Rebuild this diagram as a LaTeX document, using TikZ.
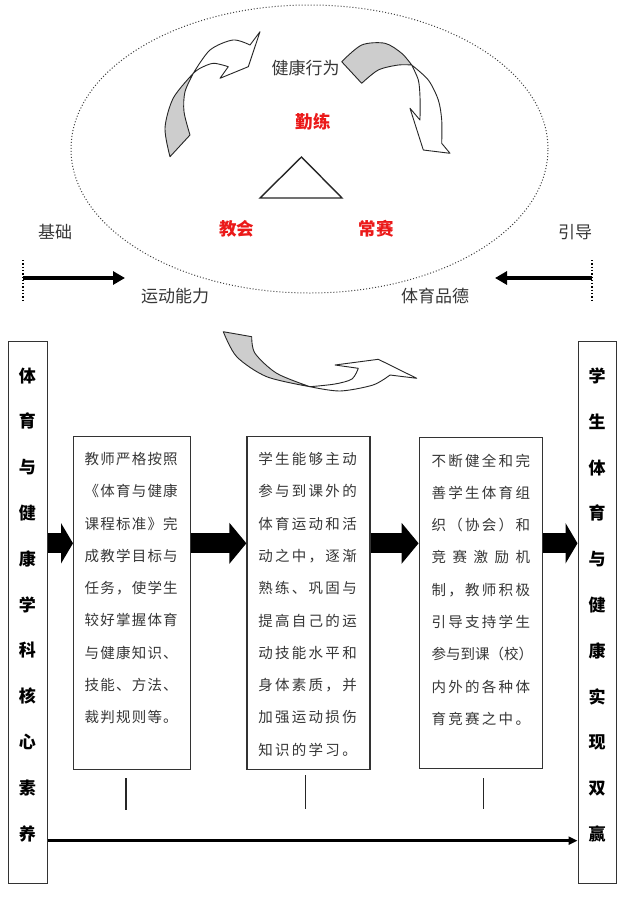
\documentclass[tikz,border=0pt]{standalone}
\usepackage{fontspec}
\newfontfamily\cjk{Noto Sans CJK SC}
\usetikzlibrary{arrows.meta}
\definecolor{txtc}{RGB}{55,55,55}
\definecolor{redc}{RGB}{235,25,25}
\definecolor{lgray}{RGB}{205,205,205}
\newlength\jw
\def\spreadit#1{\ifx\relax#1\else\hfil#1\expandafter\spreadit\fi}
\def\spreadaux#1{#1\spreadit}
\newcommand\jl[1]{\makebox[\jw][s]{\spreadaux#1\relax}}
\begin{document}
\begin{tikzpicture}[x=1pt,y=-1pt,
  lbl/.style={font=\cjk\fontsize{17}{19}\selectfont, text=txtc, inner sep=0},
  redl/.style={font=\cjk\bfseries\fontsize{17.5}{19}\selectfont, text=redc, inner sep=0},
  panel/.style={draw=black!80, line width=1.1pt, inner sep=0, anchor=north west},
  bodytext/.style={font=\cjk\fontsize{14.5}{32.3}\selectfont\setlength\jw{#1}, text=txtc, align=center, inner sep=0, anchor=north},
  sidetext/.style={font=\cjk\bfseries\fontsize{17}{45.8}\selectfont, text=black, align=center, inner sep=0, anchor=north},
  blockarrow/.style={line width=20pt, -{Triangle[length=#1, width=40pt]}},
  blockarrow/.default=15pt,
  ribbon/.style={draw=black!85, line width=0.9pt, line join=round},
  thickarrow/.style={line width=3.5pt, -{Triangle[length=12pt, width=13pt]}},
  dotline/.style={dotted, line width=1.3pt}
]
\useasboundingbox[fill=white] (0,0) rectangle (618,897);

% ---------- top part ----------
\draw[dotted, line width=1pt, black!75] (309.5,149) ellipse [x radius=238.5pt, y radius=144pt];

% left twisted arrow
\filldraw[ribbon, fill=lgray] plot[smooth] coordinates {(170,156.7) (165,128) (173.3,98) (193.3,73.3)}
  -- plot[smooth] coordinates {(193.3,73.3) (185,91.7) (184,111.7) (190,135)} -- cycle;
\filldraw[ribbon, fill=white] plot[smooth] coordinates {(193.3,73.3) (210,50) (233,40) (250,45)}
  -- (260,31.7) -- (248.3,66.7) -- (220,78.3) -- (228.3,66.7)
  -- plot[smooth] coordinates {(228.3,66.7) (213.3,63.3) (200,68.3) (193.3,73.3)} -- cycle;

% right twisted arrow
\filldraw[ribbon, fill=lgray] plot[smooth] coordinates {(341.7,61.7) (361.7,45) (385,43.3) (401.7,53.3) (411.7,65)}
  -- plot[smooth] coordinates {(411.7,65) (398.3,65) (378.3,70) (361.7,83.3)} -- cycle;
\filldraw[ribbon, fill=white] plot[smooth] coordinates {(411.7,65) (428.3,80) (438.3,100) (441.7,120) (441.7,143.3)}
  -- (450,153.3) -- (423.3,150) -- (410,108.3) -- (420,120)
  -- plot[smooth] coordinates {(420,120) (420,96.7) (418.3,80) (411.7,65)} -- cycle;

% bottom twisted arrow
\filldraw[ribbon, fill=lgray] (223.3,331.7) -- (251.7,336.7)
  -- plot[smooth] coordinates {(251.7,336.7) (255,353.3) (276.7,373.3) (310,386.7)}
  -- plot[smooth] coordinates {(310,386.7) (266.7,376.7) (236.7,356.7) (223.3,331.7)} -- cycle;
\filldraw[ribbon, fill=white] plot[smooth] coordinates {(310,386.7) (335,384) (352,379) (358.3,368.3)}
  -- (335,365) -- (378.3,359.3) -- (416.7,378.3) -- (390,375)
  -- plot[smooth] coordinates {(390,375) (373,385) (340,391) (310,386.7)} -- cycle;

% labels
\node[lbl] (jkxw) at (305.5,68) {健康行为};
\node[redl] (ql) at (313,122) {勤练};
\draw[line width=1.4pt, black!85] (301.5,157) -- (260,198) -- (342,198) -- cycle;
\node[redl] (jh) at (236.5,229) {教会};
\node[redl] (cs) at (376,229) {常赛};
\node[lbl] (jc) at (55,232) {基础};
\node[lbl] (yd) at (575,232) {引导};
\node[lbl] (ydnl) at (175,296) {运动能力};
\node[lbl] (typd) at (435,296) {体育品德};

\draw[dotline] (23,260) -- (23,300);
\draw[dotline] (592,260) -- (592,300);
\coordinate (ls) at (23,278);
\coordinate (le) at (125,278);
\coordinate (rs) at (592,278);
\coordinate (re) at (495,278);
\draw[thickarrow] (ls) -- (le);
\draw[thickarrow] (rs) -- (re);

% ---------- bottom part ----------
\node[panel, minimum width=38.5pt, minimum height=542pt] (lbox) at (8,340.7) {};
\node[panel, minimum width=38.5pt, minimum height=542pt] (rbox) at (577.5,340.7) {};
\node[sidetext] (lt) at (27.5,367.5) {体\\育\\与\\健\\康\\学\\科\\核\\心\\素\\养};
\node[sidetext] (rt) at (597,367.5) {学\\生\\体\\育\\与\\健\\康\\实\\现\\双\\赢};

\node[panel, minimum width=117pt, minimum height=333.3pt] (b1) at (73,436) {};
\node[panel, minimum width=123pt, minimum height=333.3pt] (b2) at (246.4,436) {};
\node[panel, minimum width=123.4pt, minimum height=331pt] (b3) at (418.6,437.3) {};

\node[bodytext=93pt] (t1) at (131.2,452) {\jl{教师严格按照}\\\jl{《体育与健康}\\\jl{课程标准》完}\\\jl{成教学目标与}\\\jl{任务，使学生}\\\jl{较好掌握体育}\\\jl{与健康知识、}\\\jl{技能、方法、}\\\jl{裁判规则等。}};
\node[bodytext=98.5pt] (t2) at (307.5,452) {\jl{学生能够主动}\\\jl{参与到课外的}\\\jl{体育运动和活}\\\jl{动之中，逐渐}\\\jl{熟练、巩固与}\\\jl{提高自己的运}\\\jl{动技能水平和}\\\jl{身体素质，并}\\\jl{加强运动损伤}\\\jl{知识的学习。}};
\node[bodytext=98.4pt] (t3) at (480.8,453.5) {\jl{不断健全和完}\\\jl{善学生体育组}\\\jl{织（协会）和}\\\jl{竞赛激励机}\\\jl{制，教师积极}\\\jl{引导支持学生}\\\jl{参与到课（校）}\\\jl{内外的各种体}\\\jl{育竞赛之中。}};

\coordinate (ya) at (0,543.3);
\draw[blockarrow=12pt] (lbox.east |- ya) -- (b1.west |- ya);
\draw[blockarrow=17pt] (b1.east |- ya) -- (b2.west |- ya);
\draw[blockarrow=17pt] (b2.east |- ya) -- (b3.west |- ya);
\draw[blockarrow=12pt] (b3.east |- ya) -- (rbox.west |- ya);

\coordinate (k1a) at (126,778); \coordinate (k1b) at (126,810);
\coordinate (k2a) at (305.5,775); \coordinate (k2b) at (305.5,809);
\coordinate (k3a) at (483.6,778); \coordinate (k3b) at (483.6,809);
\draw[line width=1.6pt, black!85] (k1a) -- (k1b);
\draw[line width=1.6pt, black!85] (k2a) -- (k2b);
\draw[line width=1.6pt, black!85] (k3a) -- (k3b);

\coordinate (yb) at (0,840.7);
\draw[line width=2.6pt, -{Triangle[length=9pt, width=8pt]}] (lbox.east |- yb) -- (rbox.west |- yb);
\end{tikzpicture}
\end{document}
